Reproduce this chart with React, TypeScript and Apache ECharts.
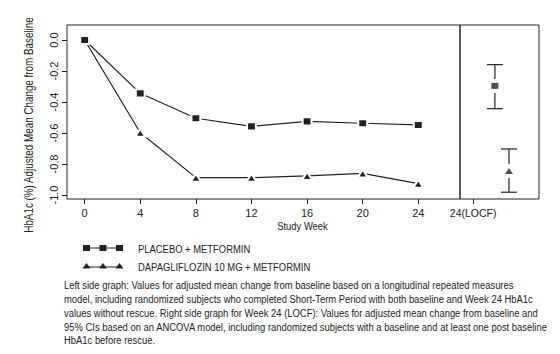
import React, { useEffect, useRef } from "react";
import * as echarts from "echarts";

const weeks = [0, 4, 8, 12, 16, 20, 24];
const placeboValues = [0, -0.344, -0.505, -0.557, -0.525, -0.537, -0.548];
const dapaValues = [0, -0.598, -0.888, -0.888, -0.877, -0.86, -0.927];
const yTicks = [-1.0, -0.8, -0.6, -0.4, -0.2, 0.0];
const locfLabel = "24(LOCF)";
// [x position in right panel, mean, lower CI, upper CI]
const placeboLocf = [2.65, -0.296, -0.443, -0.159];
const dapaLocf = [3.72, -0.845, -0.982, -0.703];
const seriesNames = ["PLACEBO + METFORMIN", "DAPAGLIFLOZIN 10 MG + METFORMIN"];
const footnoteLines = [
  "Left side graph: Values for adjusted mean change from baseline based on a longitudinal repeated measures",
  "model, including randomized subjects who completed Short-Term Period with both baseline and Week 24 HbA1c",
  "values without rescue. Right side graph for Week 24 (LOCF): Values for adjusted mean change from baseline and",
  "95% CIs based on an ANCOVA model, including randomized subjects with a baseline and at least one post baseline",
  "HbA1c before rescue.",
];
const yAxisTitle = "HbA1c (%) Adjusted Mean Change from Baseline";
const xAxisTitle = "Study Week";

const FONT = "'Liberation Sans', Arial, sans-serif";
const INK = "#222";
const NARROW = 0.82;

export default function App() {
  const ref = useRef<HTMLDivElement>(null);
  useEffect(() => {
    if (!ref.current) return;
    const chart = echarts.init(ref.current, null, { renderer: "svg" });
    const yMin = -1.0258;
    const yMax = 0.0968;
    const errorBar = (params: any, api: any) => {
      const x = api.value(0);
      const mean = api.coord([x, api.value(1)]);
      const lo = api.coord([x, api.value(2)]);
      const hi = api.coord([x, api.value(3)]);
      const cap = 8;
      const gap = 7;
      const style = { stroke: INK, lineWidth: 1.2 };
      return {
        type: "group",
        children: [
          { type: "line", shape: { x1: hi[0] - cap, y1: hi[1], x2: hi[0] + cap, y2: hi[1] }, style },
          { type: "line", shape: { x1: lo[0] - cap, y1: lo[1], x2: lo[0] + cap, y2: lo[1] }, style },
          { type: "line", shape: { x1: hi[0], y1: hi[1], x2: hi[0], y2: mean[1] - gap }, style },
          { type: "line", shape: { x1: lo[0], y1: mean[1] + gap, x2: lo[0], y2: lo[1] }, style },
        ],
      };
    };
    const txt = (text: string, x: number, y: number, size: number, align = "left", extra: any = {}) => ({
      type: "text",
      x,
      y,
      scaleX: NARROW,
      ...extra,
      style: { text, fontSize: size, fontFamily: FONT, fill: INK, align, verticalAlign: "middle" },
    });
    const legendIcon = (kind: "rect" | "tri", y: number) => {
      const xs = [86.5, 103, 119.5];
      const ly = kind === "rect" ? y : y + 1;
      const children: any[] = [
        { type: "line", shape: { x1: xs[0], y1: ly, x2: xs[2], y2: ly }, style: { stroke: INK, lineWidth: 1.2 } },
      ];
      xs.forEach((cx) => {
        if (kind === "rect") {
          children.push({ type: "rect", shape: { x: cx - 3.5, y: y - 3, width: 7, height: 6 }, style: { fill: INK } });
        } else {
          children.push({ type: "polygon", shape: { points: [[cx - 4, y + 2.5], [cx, y - 3], [cx + 4, y + 2.5]] }, style: { fill: INK } });
        }
      });
      return { type: "group", children };
    };
    const option: any = {
      animation: false,
      textStyle: { fontFamily: FONT },
      grid: [
        { left: 67, top: 25, width: 393, height: 174, show: true, borderColor: INK, borderWidth: 1, backgroundColor: "transparent" },
        { left: 460, top: 25, width: 79, height: 174, show: true, borderColor: INK, borderWidth: 1, backgroundColor: "transparent" },
      ],
      xAxis: [
        {
          type: "value",
          gridIndex: 0,
          min: -1.27,
          max: 27.0,
          axisLine: { show: false, onZero: false },
          splitLine: { show: false },
          axisTick: { show: true, length: 5, customValues: weeks, lineStyle: { color: INK } },
          axisLabel: { customValues: weeks, color: INK, fontSize: 11, fontFamily: FONT, margin: 8 },
        },
        {
          type: "value",
          gridIndex: 1,
          min: 0,
          max: 6,
          axisLine: { show: false, onZero: false },
          splitLine: { show: false },
          axisTick: { show: true, length: 5, customValues: [1], lineStyle: { color: INK } },
          axisLabel: {
            customValues: [1],
            formatter: () => locfLabel,
            color: INK,
            fontSize: 10.5,
            fontFamily: FONT,
            margin: 8,
          },
        },
      ],
      yAxis: [
        {
          type: "value",
          gridIndex: 0,
          min: yMin,
          max: yMax,
          axisLine: { show: false, onZero: false },
          splitLine: { show: false },
          axisTick: { show: true, length: 5, customValues: yTicks, lineStyle: { color: INK } },
          axisLabel: {
            customValues: yTicks,
            formatter: (v: number) => v.toFixed(1),
            rotate: 90,
            color: INK,
            fontSize: 11,
            fontFamily: FONT,
            margin: 8,
          },
        },
        {
          type: "value",
          gridIndex: 1,
          min: yMin,
          max: yMax,
          axisLine: { show: false, onZero: false },
          axisTick: { show: false },
          axisLabel: { show: false },
          splitLine: { show: false },
        },
      ],
      series: [
        {
          name: seriesNames[1],
          type: "line",
          xAxisIndex: 0,
          yAxisIndex: 0,
          z: 2,
          data: weeks.map((w, i) => [w, dapaValues[i]]),
          symbol: "triangle",
          symbolSize: [10, 8],
          showAllSymbol: true,
          lineStyle: { color: INK, width: 1.2 },
          itemStyle: { color: INK, borderColor: "#fff", borderWidth: 2 },
        },
        {
          name: seriesNames[0],
          type: "line",
          xAxisIndex: 0,
          yAxisIndex: 0,
          z: 3,
          data: weeks.map((w, i) => [w, placeboValues[i]]),
          symbol: "rect",
          symbolSize: [9, 8],
          showAllSymbol: true,
          lineStyle: { color: INK, width: 1.2 },
          itemStyle: { color: INK, borderColor: "#fff", borderWidth: 2 },
        },
        {
          type: "custom",
          xAxisIndex: 1,
          yAxisIndex: 1,
          renderItem: errorBar,
          data: [placeboLocf, dapaLocf],
          silent: true,
        },
        {
          type: "scatter",
          xAxisIndex: 1,
          yAxisIndex: 1,
          symbol: "rect",
          symbolSize: [7, 6],
          data: [[placeboLocf[0], placeboLocf[1]]],
          itemStyle: { color: INK },
        },
        {
          type: "scatter",
          xAxisIndex: 1,
          yAxisIndex: 1,
          symbol: "triangle",
          symbolSize: [8, 6],
          data: [[dapaLocf[0], dapaLocf[1]]],
          itemStyle: { color: INK },
        },
      ],
      graphic: [
        txt(yAxisTitle, 29, 125, 12, "center", { rotation: Math.PI / 2 }),
        txt(xAxisTitle, 302.5, 226, 11.5, "center"),
        legendIcon("rect", 248),
        legendIcon("tri", 266),
        txt(seriesNames[0], 138, 248.5, 11.5),
        txt(seriesNames[1], 138, 266.5, 11.5),
        ...footnoteLines.map((line, i) => txt(line, 64, 284.5 + i * 13.9, 11.5)),
      ],
    };
    chart.setOption(option);
    return () => chart.dispose();
  }, []);
  return <div ref={ref} style={{ width: 560, height: 354, margin: -8 }} />;
}
